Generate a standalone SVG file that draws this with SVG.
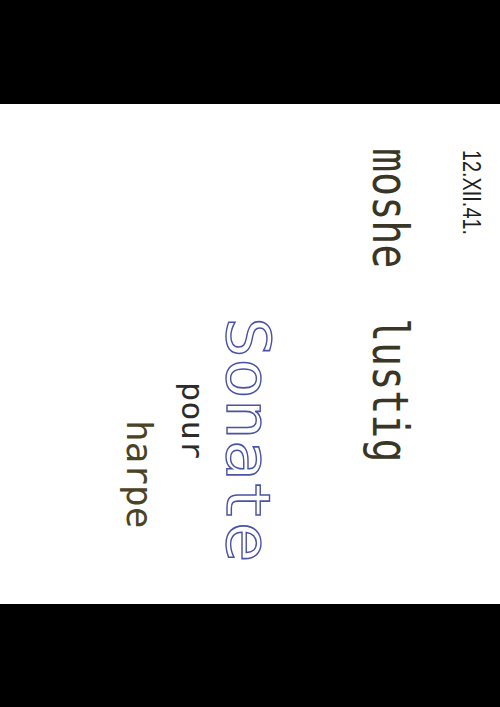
<svg xmlns="http://www.w3.org/2000/svg" width="500" height="707" viewBox="0 0 500 707">
<style>
.stamp{font-family:"DejaVu Sans Mono","Liberation Mono",monospace;}
.date{font-family:"Liberation Sans",Arial,sans-serif;fill:#1e1e1e;}
</style>
<rect x="0" y="0" width="500" height="707" fill="#ffffff"/>
<g id="bars">
<rect x="0" y="0" width="500" height="104" fill="#000000"/>
<rect x="0" y="604" width="500" height="103" fill="#000000"/>
</g>
<g id="date">
<text class="date" font-size="26" textLength="85" lengthAdjust="spacingAndGlyphs" transform="translate(463,150) rotate(90)">12.XII.41.</text>
</g>
<g id="author">
<text class="stamp" font-size="40" fill="#3a3626" transform="translate(373,148) rotate(90) scale(1,1.23)">moshe</text>
<text class="stamp" font-size="40" fill="#3a3626" transform="translate(373,318) rotate(90) scale(1,1.23)">lustig</text>
</g>
<g id="title">
<text class="stamp" font-size="68" fill="none" stroke="#4a52a6" stroke-width="1.6" transform="translate(227,317) rotate(90) scale(1,0.88)">Sonate</text>
</g>
<g id="pour">
<text class="stamp" font-size="32" fill="#2c2b28" transform="translate(182,382) rotate(90) scale(1,0.92)">pour</text>
</g>
<g id="harpe">
<text class="stamp" font-size="36" fill="#4a4326" transform="translate(127,420) rotate(90)">harpe</text>
</g>
</svg>
